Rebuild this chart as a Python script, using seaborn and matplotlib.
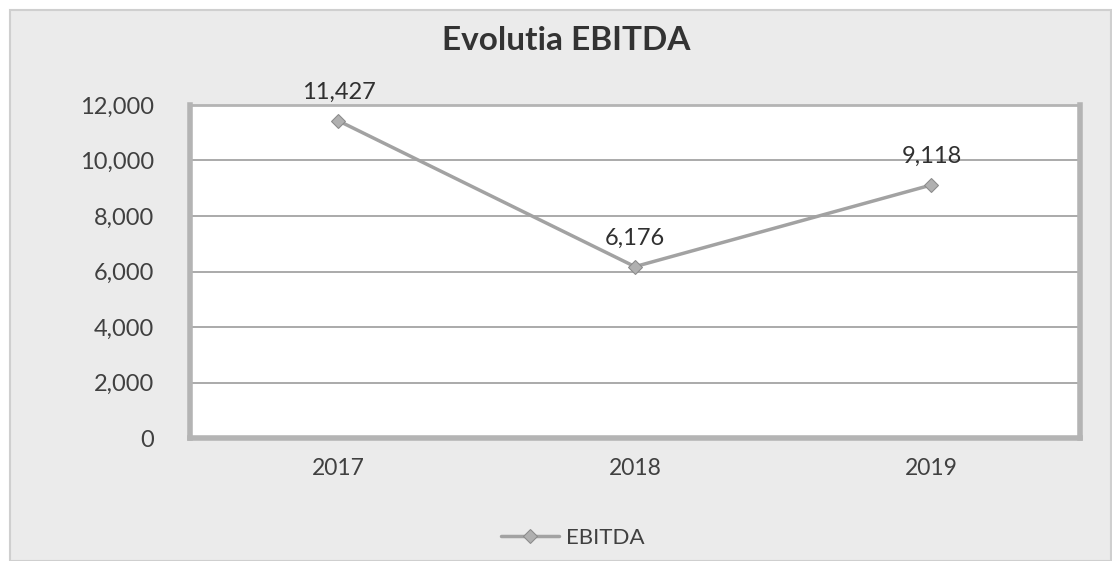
import pandas as pd
import matplotlib.pyplot as plt
import seaborn as sns
from matplotlib.patches import Rectangle
from matplotlib.ticker import FuncFormatter

years = ["2017", "2018", "2019"]
ebitda = [11427, 6176, 9118]
y_ticks = [0, 2000, 4000, 6000, 8000, 10000, 12000]

df = pd.DataFrame({"An": years, "EBITDA": ebitda})

sns.set_style("white")
plt.rcParams["font.family"] = ["Lato", "DejaVu Sans"]

fig = plt.figure(figsize=(11.12, 5.61), dpi=100)
fig.patch.set_facecolor("white")
# chart area background
fig.patches.append(Rectangle((0.009, 0.0), 0.99, 0.982, transform=fig.transFigure,
                             facecolor="#ebebeb", edgecolor="#cfcfcf", lw=1.5, zorder=-10))

ax = fig.add_axes([0.171, 0.219, 0.80, 0.594])
ax.set_facecolor("white")

sns.lineplot(data=df, x="An", y="EBITDA", ax=ax, color="#a2a2a2", lw=2.5,
             marker="D", markersize=7, markerfacecolor="#b0b0b0",
             markeredgecolor="#8a8a8a", label="EBITDA", sort=False)

ax.set_xlim(-0.5, 2.5)
ax.set_ylim(0, 12000)
ax.set_yticks(y_ticks)
ax.yaxis.set_major_formatter(FuncFormatter(lambda v, p: f"{int(v):,}"))
ax.grid(axis="y", color="#9c9c9c", lw=1.2)
ax.set_axisbelow(True)
ax.set_xlabel("")
ax.set_ylabel("")
ax.tick_params(axis="x", length=0, labelsize=16.5, labelcolor="#404040", pad=14)
ax.tick_params(axis="y", length=0, labelsize=17, labelcolor="#404040", pad=26)

for side in ["left", "bottom", "right", "top"]:
    ax.spines[side].set_color("#b4b4b4")
    ax.spines[side].set_linewidth(4)
ax.spines["top"].set_linewidth(2)

for i, v in enumerate(ebitda):
    ax.annotate(f"{v:,}", (i, v), textcoords="offset points", xytext=(0, 13),
                ha="center", va="bottom", fontsize=17, color="#303030",
                annotation_clip=False)

fig.text(0.509, 0.928, "Evolutia EBITDA", ha="center", va="center",
         fontsize=24, fontweight="bold", color="#333333")

leg = ax.legend(loc="center", bbox_to_anchor=(0.43, -0.3), frameon=False,
                fontsize=16, handlelength=2.6, handletextpad=0.3)
for t in leg.get_texts():
    t.set_color("#404040")

fig.savefig("out.png", dpi=100, facecolor=fig.get_facecolor())
